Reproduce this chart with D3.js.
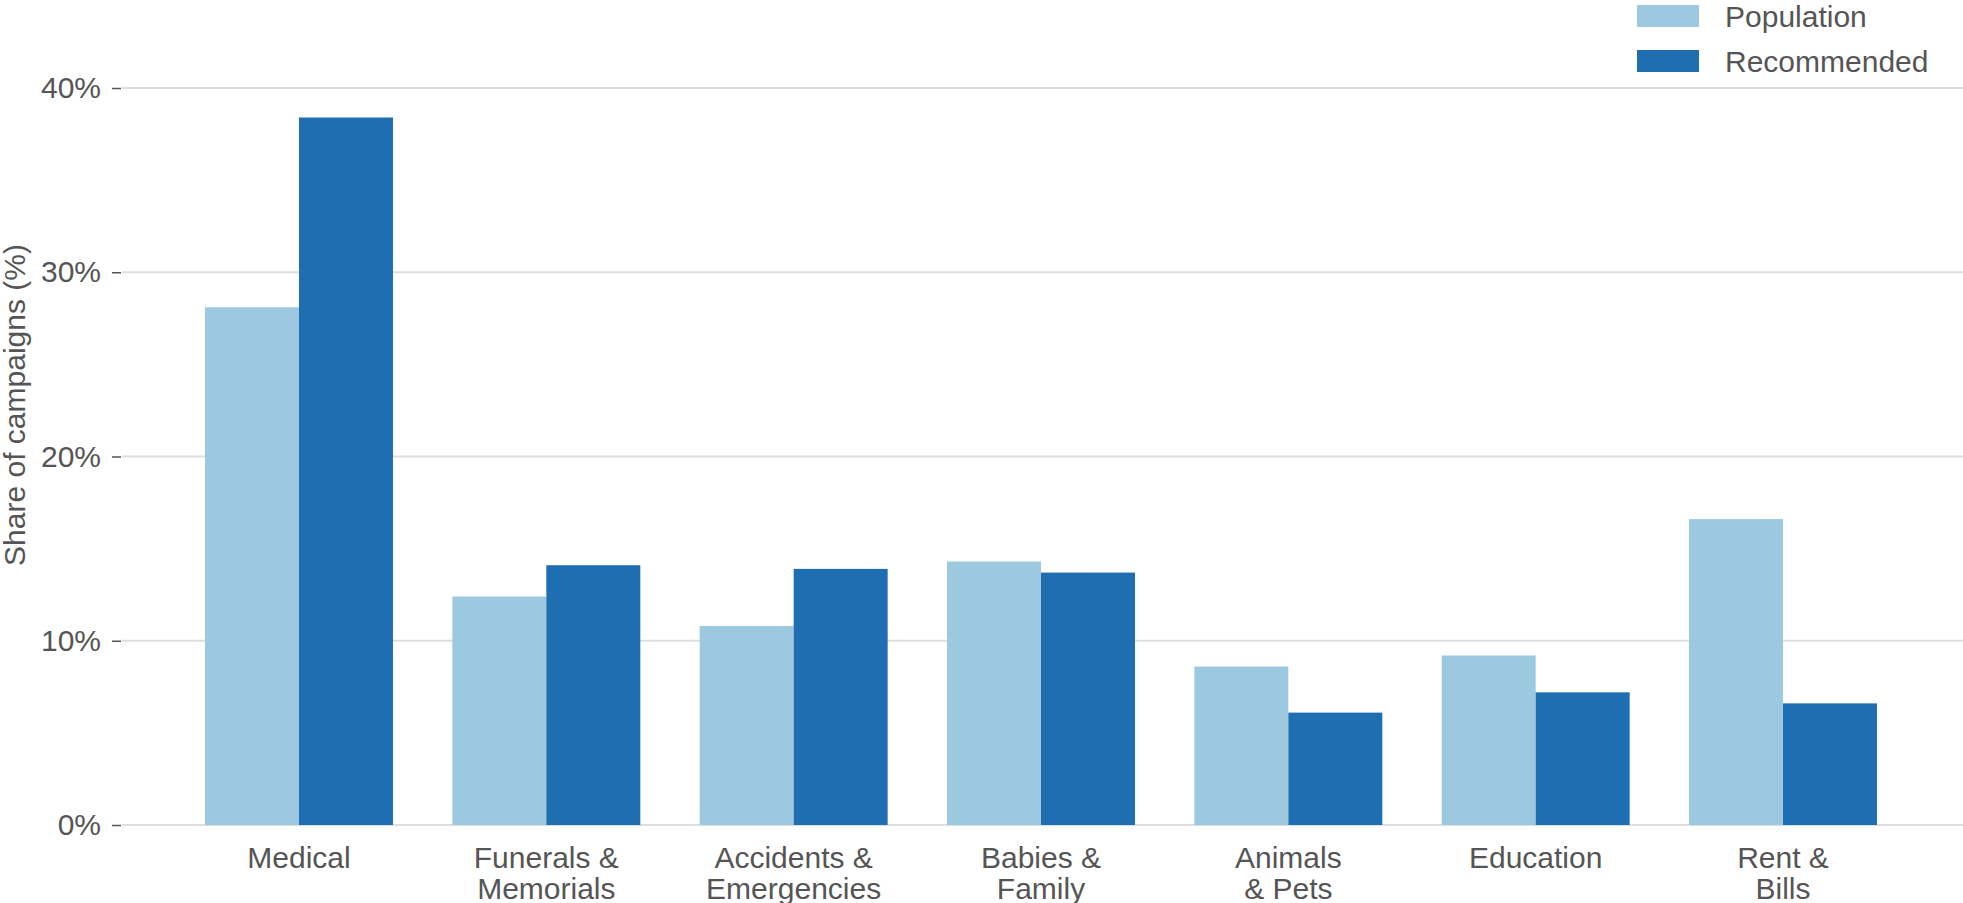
<!DOCTYPE html>
<html>
<head>
<meta charset="utf-8">
<script src="https://cdn.jsdelivr.net/npm/d3@7"></script>
<style>
  html, body { margin: 0; padding: 0; background: #fff; }
  svg { display: block; }
  text { font-family: "Liberation Sans", Arial, Helvetica, sans-serif; fill: #555; }
</style>
</head>
<body>
<svg id="chart" width="1963" height="903"></svg>
<script>
const categories = [
  ["Medical"],
  ["Funerals &", "Memorials"],
  ["Accidents &", "Emergencies"],
  ["Babies &", "Family"],
  ["Animals", "& Pets"],
  ["Education"],
  ["Rent &", "Bills"]
];
const seriesNames = ["Population", "Recommended"];
const population  = [28.1, 12.4, 10.8, 14.3, 8.6, 9.2, 16.6];
const recommended = [38.4, 14.1, 13.9, 13.7, 6.1, 7.2, 6.6];
const yTicks = [0, 10, 20, 30, 40];
const yTitle = "Share of campaigns (%)";

const colors = { Population: "#9cc8e0", Recommended: "#1f6eb2" };
const FS = 30;

const svg = d3.select("#chart");
const W = 1963, H = 903;
const gridLeft = 122, gridRight = W;

const catKeys = categories.map(c => c.join(" "));
const x = d3.scaleBand().domain(catKeys).range([205, 1877]).paddingInner(0.24).paddingOuter(0);
const xs = d3.scaleBand().domain(seriesNames).range([0, x.bandwidth()]).padding(0);
const y = d3.scaleLinear().domain([0, 40]).range([825, 88]);

// gridlines
svg.append("g").selectAll("line").data(yTicks).join("line")
  .attr("x1", gridLeft).attr("x2", gridRight)
  .attr("y1", d => y(d)).attr("y2", d => y(d))
  .attr("stroke", "#dedede").attr("stroke-width", 2);

// y axis (ticks + labels)
const yAxis = d3.axisLeft(y).tickValues(yTicks).tickFormat(d => d + "%").tickSize(9).tickPadding(11);
const gy = svg.append("g").attr("transform", `translate(${gridLeft - 1},0)`).call(yAxis);
gy.select(".domain").remove();
gy.selectAll(".tick line").attr("stroke", "#555").attr("stroke-width", 1.5);
gy.selectAll(".tick text").attr("font-size", FS).attr("fill", "#555")
  .style("font-family", '"Liberation Sans", Arial, sans-serif');

// bars
const data = catKeys.map((k, i) => ({ key: k, Population: population[i], Recommended: recommended[i] }));
const groups = svg.append("g").selectAll("g").data(data).join("g")
  .attr("transform", d => `translate(${x(d.key)},0)`);
groups.selectAll("rect").data(d => seriesNames.map(s => ({ s, v: d[s] }))).join("rect")
  .attr("x", d => xs(d.s))
  .attr("width", xs.bandwidth())
  .attr("y", d => y(d.v))
  .attr("height", d => y(0) - y(d.v))
  .attr("fill", d => colors[d.s]);

// x labels
const xl = svg.append("g").selectAll("text").data(categories).join("text")
  .attr("x", (d, i) => x(catKeys[i]) + x.bandwidth() / 2)
  .attr("y", 868)
  .attr("text-anchor", "middle")
  .attr("font-size", FS);
xl.selectAll("tspan").data(d => d).join("tspan")
  .attr("x", function() { return d3.select(this.parentNode).attr("x"); })
  .attr("dy", (d, i) => i === 0 ? 0 : 31)
  .text(d => d);

// y title
svg.append("text")
  .attr("transform", "translate(25,405) rotate(-90)")
  .attr("text-anchor", "middle")
  .attr("font-size", FS)
  .text(yTitle);

// legend
const leg = svg.append("g");
seriesNames.forEach((s, i) => {
  const ly = 5 + i * 45;
  leg.append("rect").attr("x", 1637).attr("y", ly).attr("width", 62).attr("height", 22).attr("fill", colors[s]);
  leg.append("text").attr("x", 1725).attr("y", ly + 22).attr("font-size", FS).text(s);
});
</script>
</body>
</html>
